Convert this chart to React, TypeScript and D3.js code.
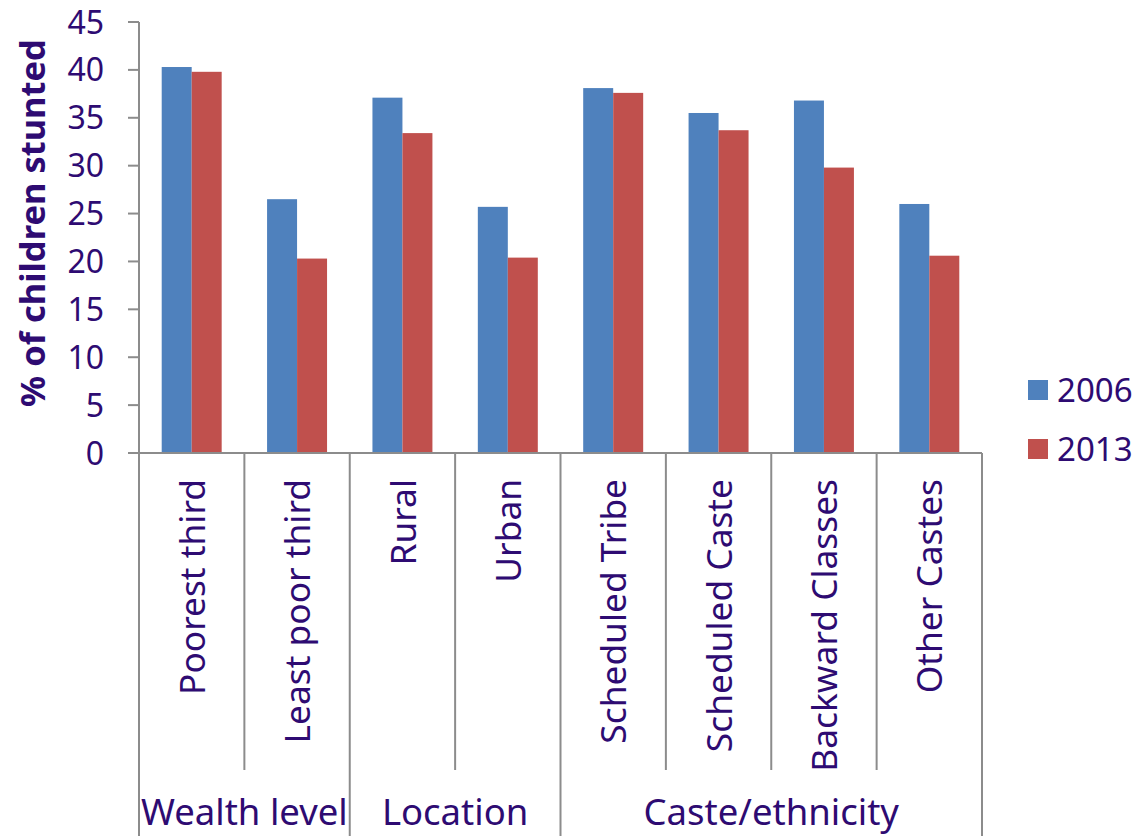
import React from "react";
import * as d3 from "d3";

const categories = [
  "Poorest third",
  "Least poor third",
  "Rural",
  "Urban",
  "Scheduled Tribe",
  "Scheduled Caste",
  "Backward Classes",
  "Other Castes",
];
const seriesNames = ["2006", "2013"];
const values2006 = [40.3, 26.5, 37.1, 25.7, 38.1, 35.5, 36.8, 26.0];
const values2013 = [39.8, 20.3, 33.4, 20.4, 37.6, 33.7, 29.8, 20.6];
const groupNames = ["Wealth level", "Location", "Caste/ethnicity"];
const groupStarts = [0, 2, 4];
const groupEnds = [2, 4, 8];
const yTicks = [0, 5, 10, 15, 20, 25, 30, 35, 40, 45];
const yTitle = "% of children stunted";

const COLORS = ["#4F81BD", "#C0504D"];
const TEXT = "#2E0B72";
const AXIS = "#8C8C8C";
const FONT = "'Noto Sans', sans-serif";

export default function App() {
  const W = 1140;
  const H = 836;
  const left = 139;
  const right = 982;
  const top = 22;
  const bottom = 453;

  const x = d3.scaleBand<string>().domain(categories).range([left, right]).paddingInner(0).paddingOuter(0);
  const x1 = d3
    .scaleBand<string>()
    .domain(seriesNames)
    .range([0, x.bandwidth()])
    .paddingInner(0)
    .paddingOuter(0.757);
  const y = d3.scaleLinear().domain([0, 45]).range([bottom, top]);
  const series = [values2006, values2013];

  const boundaries = d3.range(categories.length + 1);
  const groupBoundaryIdx = new Set([0, ...groupEnds]);

  return (
    <svg
      width={W}
      height={H}
      style={{ position: "absolute", left: 0, top: 0, background: "#fff" }}
      fontFamily={FONT}
    >
      {/* bars */}
      {categories.map((c, i) =>
        series.map((vals, s) => (
          <rect
            key={c + s}
            x={(x(c) as number) + (x1(seriesNames[s]) as number)}
            y={y(vals[i])}
            width={x1.bandwidth()}
            height={bottom - y(vals[i])}
            fill={COLORS[s]}
          />
        ))
      )}

      {/* y axis */}
      <line x1={left} x2={left} y1={top} y2={bottom} stroke={AXIS} strokeWidth={2} />
      {yTicks.map((t) => (
        <g key={t}>
          <line x1={left - 11} x2={left} y1={y(t)} y2={y(t)} stroke={AXIS} strokeWidth={2} />
          <text
            x={104}
            y={y(t)}
            dy="0.36em"
            textAnchor="end"
            fontSize={32}
            fill={TEXT}
          >
            {t}
          </text>
        </g>
      ))}
      <text
        transform={`translate(45, 223) rotate(-90)`}
        textAnchor="middle"
        fontSize={34.5}
        fontWeight="bold"
        fill={TEXT}
      >
        {yTitle}
      </text>

      {/* baseline */}
      <line x1={left - 11} x2={right} y1={bottom} y2={bottom} stroke={AXIS} strokeWidth={2} />

      {/* category separators */}
      {boundaries.map((b) => {
        const bx = b < categories.length ? (x(categories[b]) as number) : right;
        return (
          <line
            key={"sep" + b}
            x1={bx}
            x2={bx}
            y1={bottom}
            y2={groupBoundaryIdx.has(b) ? H : 770}
            stroke={AXIS}
            strokeWidth={2}
          />
        );
      })}

      {/* category labels */}
      {categories.map((c) => (
        <text
          key={"lab" + c}
          transform={`translate(${(x(c) as number) + x.bandwidth() / 2}, 479) rotate(-90)`}
          dy="0.37em"
          textAnchor="end"
          fontSize={35.3}
          fill={TEXT}
        >
          {c}
        </text>
      ))}

      {/* group labels */}
      {groupNames.map((g, i) => {
        const x0 = x(categories[groupStarts[i]]) as number;
        const xe = groupEnds[i] < categories.length ? (x(categories[groupEnds[i]]) as number) : right;
        return (
          <text key={g} x={(x0 + xe) / 2} y={825} textAnchor="middle" fontSize={36.5} fill={TEXT}>
            {g}
          </text>
        );
      })}

      {/* legend */}
      {seriesNames.map((s, i) => (
        <g key={"leg" + s} transform={`translate(1028, ${380 + i * 59})`}>
          <rect x={0} y={0} width={20} height={20} fill={COLORS[i]} />
          <text x={29} y={10} dy="0.36em" fontSize={33} fill={TEXT}>
            {s}
          </text>
        </g>
      ))}
    </svg>
  );
}
